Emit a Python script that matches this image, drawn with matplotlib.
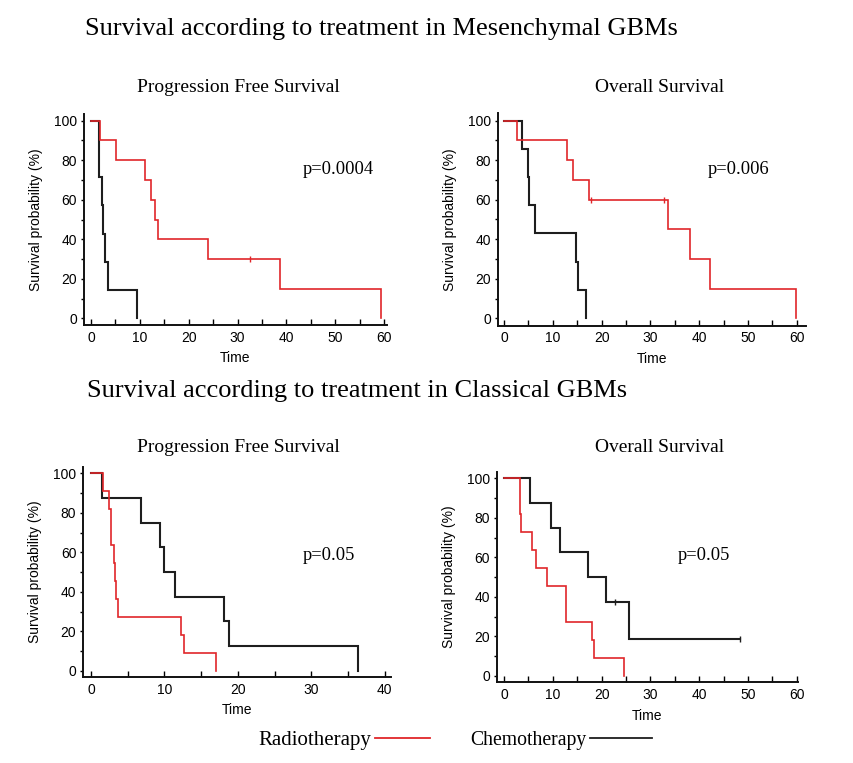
import matplotlib
matplotlib.use("Agg")
import matplotlib.pyplot as plt
from matplotlib.ticker import MultipleLocator
from matplotlib.lines import Line2D

# ---------------- data ----------------
# Mesenchymal GBMs - Progression Free Survival
mes_pfs_radio_t = [0, 1.8, 5.2, 11.0, 12.2, 13.1, 13.8, 24.0, 38.6, 59.3]
mes_pfs_radio_s = [100, 90, 80, 70, 60, 50, 40, 30, 15, 0]
mes_pfs_radio_cens_t = [32.5]
mes_pfs_radio_cens_s = [30]
mes_pfs_chemo_t = [0, 1.7, 2.25, 2.5, 2.9, 3.5, 9.5]
mes_pfs_chemo_s = [100, 71.4, 57.1, 42.9, 28.6, 14.3, 0]

# Mesenchymal GBMs - Overall Survival
mes_os_radio_t = [0, 2.7, 12.85, 14.1, 17.4, 33.7, 38.2, 42.2, 59.8]
mes_os_radio_s = [100, 90, 80, 70, 60, 45, 30, 15, 0]
mes_os_radio_cens_t = [17.8, 32.7]
mes_os_radio_cens_s = [60, 60]
mes_os_chemo_t = [0, 3.7, 4.85, 5.1, 6.4, 14.7, 15.1, 16.8]
mes_os_chemo_s = [100, 85.7, 71.4, 57.1, 42.9, 28.6, 14.3, 0]

# Classical GBMs - Progression Free Survival
cla_pfs_radio_t = [0, 1.64, 2.45, 2.77, 3.1, 3.3, 3.45, 3.7, 12.3, 12.7, 16.95]
cla_pfs_radio_s = [100, 90.9, 81.8, 63.6, 54.5, 45.5, 36.4, 27.3, 18.2, 9.1, 0]
cla_pfs_chemo_t = [0, 1.45, 6.8, 9.45, 10.0, 11.4, 18.1, 18.8, 36.4]
cla_pfs_chemo_s = [100, 87.5, 75, 62.5, 50, 37.5, 25, 12.5, 0]

# Classical GBMs - Overall Survival
cla_os_radio_t = [0, 3.2, 3.3, 3.4, 5.65, 6.55, 8.85, 12.6, 18.05, 18.5, 24.5]
cla_os_radio_s = [100, 90.9, 81.8, 72.7, 63.6, 54.5, 45.5, 27.3, 18.2, 9.1, 0]
cla_os_chemo_t = [0, 5.3, 9.7, 11.45, 17.2, 20.9, 25.7, 48.4]
cla_os_chemo_s = [100, 87.5, 75, 62.5, 50, 37.5, 18.75, 18.75]
cla_os_chemo_cens_t = [22.8, 48.4]
cla_os_chemo_cens_s = [37.5, 18.75]

p_values = ["p=0.0004", "p=0.006", "p=0.05", "p=0.05"]
panel_titles = ["Progression Free Survival", "Overall Survival",
                "Progression Free Survival", "Overall Survival"]
row_titles = ["Survival according to treatment in Mesenchymal GBMs",
              "Survival according to treatment in Classical GBMs"]
legend_labels = ["Radiotherapy", "Chemotherapy"]

RED = "#e0262a"
BLK = "#1e1e1e"
SERIF = ["Liberation Serif", "DejaVu Serif"]
SANS = ["Liberation Sans", "DejaVu Sans"]

W, H = 854, 763
fig = plt.figure(figsize=(W / 100, H / 100), dpi=100)


def add_axes_px(left, right, top, bottom):
    return fig.add_axes([left / W, (H - bottom) / H, (right - left) / W, (bottom - top) / H])


panels = [
    dict(box=(84, 387, 114, 325), xlim=(-1.43, 60.6), ylim=(-3.4, 103.4), xmax=60,
         radio=(mes_pfs_radio_t, mes_pfs_radio_s), chemo=(mes_pfs_chemo_t, mes_pfs_chemo_s),
         rc=(mes_pfs_radio_cens_t, mes_pfs_radio_cens_s), cc=None, ptxt=(303, 170)),
    dict(box=(498, 806, 113, 325.7), xlim=(-1.23, 61.9), ylim=(-3.7, 103.8), xmax=60,
         radio=(mes_os_radio_t, mes_os_radio_s), chemo=(mes_os_chemo_t, mes_os_chemo_s),
         rc=(mes_os_radio_cens_t, mes_os_radio_cens_s), cc=None, ptxt=(708, 170)),
    dict(box=(83.3, 390.7, 466.7, 677), xlim=(-1.05, 40.8), ylim=(-3.2, 103.4), xmax=40,
         radio=(cla_pfs_radio_t, cla_pfs_radio_s), chemo=(cla_pfs_chemo_t, cla_pfs_chemo_s),
         rc=None, cc=None, ptxt=(303, 555)),
    dict(box=(496.7, 798.3, 471.7, 682.3), xlim=(-1.5, 60.3), ylim=(-3.3, 103.4), xmax=60,
         radio=(cla_os_radio_t, cla_os_radio_s), chemo=(cla_os_chemo_t, cla_os_chemo_s),
         rc=None, cc=(cla_os_chemo_cens_t, cla_os_chemo_cens_s), ptxt=(678, 555)),
]

for i, p in enumerate(panels):
    l, r, t, b = p["box"]
    ax = add_axes_px(l, r, t, b)
    ax.step(*p["chemo"], where="post", color=BLK, lw=1.5, solid_joinstyle="miter")
    ax.step(*p["radio"], where="post", color=RED, lw=1.2, solid_joinstyle="miter")
    if p["rc"] is not None:
        ax.plot(*p["rc"], linestyle="none", marker="|", color=RED, ms=5, mew=1.0)
    if p["cc"] is not None:
        ax.plot(*p["cc"], linestyle="none", marker="|", color=BLK, ms=5, mew=1.0)
    ax.set_xlim(*p["xlim"])
    ax.set_ylim(*p["ylim"])
    ax.set_xticks(range(0, p["xmax"] + 1, 10))
    ax.set_yticks(range(0, 101, 20))
    ax.xaxis.set_minor_locator(MultipleLocator(5))
    ax.yaxis.set_minor_locator(MultipleLocator(10))
    for s in ("top", "right"):
        ax.spines[s].set_visible(False)
    for s in ("left", "bottom"):
        ax.spines[s].set_linewidth(1.4)
        ax.spines[s].set_color("#111111")
    ax.tick_params(axis="x", which="both", direction="in", length=4, width=1.0,
                   labelsize=10, pad=4)
    ax.tick_params(axis="y", which="both", direction="out", length=2.5, width=1.0,
                   labelsize=10, pad=2.5)
    for lab in ax.get_xticklabels() + ax.get_yticklabels():
        lab.set_family(SANS)
    ax.set_xlabel("Time", fontsize=10, family=SANS, labelpad=5)
    ax.set_ylabel("Survival probability (%)", fontsize=10, family=SANS, labelpad=8)
    px, py = p["ptxt"]
    fig.text(px / W, 1 - py / H, p_values[i], fontsize=13.3, family=SERIF,
             ha="left", va="center")

# titles
fig.text(85 / W, 1 - 29 / H, row_titles[0], fontsize=19, family=SERIF, ha="left", va="center")
fig.text(87 / W, 1 - 391 / H, row_titles[1], fontsize=19, family=SERIF, ha="left", va="center")
fig.text(238.5 / W, 1 - 87 / H, panel_titles[0], fontsize=14, family=SERIF, ha="center", va="center")
fig.text(660 / W, 1 - 87 / H, panel_titles[1], fontsize=14, family=SERIF, ha="center", va="center")
fig.text(238.5 / W, 1 - 448 / H, panel_titles[2], fontsize=14, family=SERIF, ha="center", va="center")
fig.text(660 / W, 1 - 448 / H, panel_titles[3], fontsize=14, family=SERIF, ha="center", va="center")

# legend
fig.text(258 / W, 1 - 740 / H, legend_labels[0], fontsize=15, family=SERIF, ha="left", va="center")
fig.text(470 / W, 1 - 740 / H, legend_labels[1], fontsize=14.2, family=SERIF, ha="left", va="center")
fig.add_artist(Line2D([375 / W, 430 / W], [1 - 738 / H, 1 - 738 / H], color=RED, lw=1.3,
                      transform=fig.transFigure))
fig.add_artist(Line2D([590 / W, 652 / W], [1 - 738 / H, 1 - 738 / H], color=BLK, lw=1.3,
                      transform=fig.transFigure))

fig.savefig("out.png", dpi=100, facecolor="white")
